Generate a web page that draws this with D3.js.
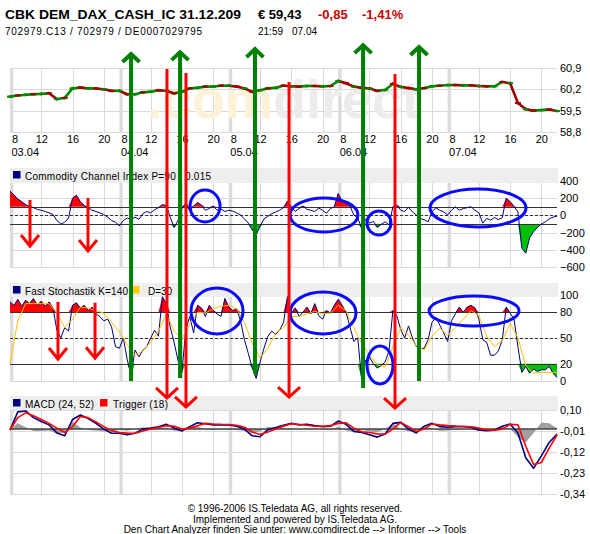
<!DOCTYPE html>
<html><head><meta charset="utf-8">
<script src="https://cdn.jsdelivr.net/npm/d3@7"></script>
<style>body{margin:0;background:#fff;} svg{display:block;font-family:"Liberation Sans",Arial,sans-serif;}</style>
</head><body><svg id="c" width="590" height="534"></svg>
<script>
// ---------- DATA ----------
const days = ["03.04","04.04","05.04","06.04","07.04"];
const hourLabels = [8,12,16,20];
const priceTicks = [60.9,60.2,59.5,58.8];
const priceTickLabels = ["60,9","60,2","59,5","58,8"];
const cciTicks = [400,200,0,-200,-400,-600];
const cciLevels = [100,-100];
const stochTicks = [100,80,50,20,0];
const stochLevels = [80,20];
const macdTicks = [0.10,-0.01,-0.12,-0.23,-0.34];
const macdTickLabels = ["0,10","-0,01","-0,12","-0,23","-0,34"];

// hourly price (t = trading hours from 03.04 08:00, 14 h per day)
const price = [
 59.96,60.00,60.02,60.04,60.05,60.07,59.88,59.92,60.23,60.26,60.23,60.23,60.20,60.15,
 60.15,60.04,60.04,60.10,60.12,60.17,60.15,60.07,60.12,60.23,60.25,60.29,60.29,60.32,
 60.32,60.29,60.23,60.12,60.17,60.23,60.25,60.32,60.30,60.29,60.31,60.31,60.30,60.31,
 60.47,60.40,60.29,60.25,60.23,60.15,60.18,60.38,60.28,60.24,60.20,60.24,60.30,60.32,
 60.34,60.34,60.33,60.33,60.31,60.30,60.30,60.44,60.40,59.75,59.55,59.50,59.52,59.54,59.49];

// half-hourly CCI
const cci = [
 284,240,190,160,125,105,90,70,60,45,30,10,-60,-100,-80,-30,200,235,160,115,90,60,45,30,10,-20,-60,-80,
 -120,-60,-30,-50,-20,-45,20,45,30,65,90,125,115,-20,-140,-60,80,140,50,110,150,120,60,80,110,60,75,45,
 60,50,30,5,-40,-90,-170,-225,-130,-40,-10,20,40,60,90,165,100,45,80,110,70,60,45,85,60,25,80,100,
 255,165,140,110,5,-30,-150,-40,-90,-70,-140,-105,-75,-110,100,120,60,45,95,40,5,-35,-50,-75,40,90,60,40,
 5,60,100,60,80,90,100,60,30,-90,-35,-55,-25,-50,-25,200,160,105,40,-380,-440,-260,-190,-140,-100,-75,-40,-20,
 -10];

// half-hourly Fast Stochastik K
const stochK = [
 92,88,95,87,94,90,96,88,93,87,92,85,59,50,62,58,88,91,85,88,82,86,78,75,70,72,63,40,
 38,50,25,7,36,28,36,40,50,59,52,98,90,63,45,24,10,60,75,56,88,85,75,88,82,78,75,96,
 86,82,84,70,48,32,15,3,22,38,52,58,54,59,68,98,78,85,75,80,86,78,90,76,72,82,79,88,
 95,88,80,63,46,50,2,24,28,20,15,18,22,35,82,76,60,50,64,50,40,38,38,48,68,74,65,56,
 46,70,78,86,80,86,88,85,72,48,45,30,30,35,48,86,79,72,40,10,17,9,14,11,13,13,17,9,
 4];

// hourly D line
const stochD = [
 21,70,90,90,90,90,79,62,72,86,85,82,79,68,
 57,42,30,35,45,58,78,58,49,66,80,79,84,87,
 88,84,68,44,27,38,56,62,75,75,78,81,78,79,
 88,82,62,44,30,19,16,40,62,54,41,36,52,62,
 53,62,72,82,76,52,40,47,67,50,18,9,10,10,10];

// hourly MACD, trigger, histogram
const macd = [
 -0.005,0.09,0.095,0.06,0.04,0.022,-0.02,-0.035,0.05,0.074,0.055,0.03,0.0,-0.022,
 -0.022,-0.03,-0.022,0.0,0.005,0.012,0.025,0.006,-0.01,0.013,0.033,0.028,0.022,0.022,
 0.022,0.015,0.0,-0.035,-0.04,-0.003,0.008,0.02,0.03,0.022,0.025,0.018,0.013,0.015,
 0.042,0.025,-0.012,-0.018,-0.03,-0.042,-0.026,0.03,0.035,0.0,-0.02,0.015,0.03,0.013,
 0.01,0.013,0.012,0.01,-0.005,-0.008,-0.006,0.015,0.027,-0.02,-0.15,-0.205,-0.14,-0.07,-0.026];
const trigger = [
 -0.005,0.06,0.085,0.07,0.05,0.03,0.005,-0.018,0.013,0.066,0.06,0.038,0.013,-0.008,
 -0.018,-0.021,-0.022,-0.01,0.0,0.008,0.018,0.015,0.0,0.005,0.018,0.03,0.027,0.025,
 0.024,0.02,0.01,-0.015,-0.028,-0.015,0.0,0.015,0.028,0.024,0.02,0.015,0.015,0.018,
 0.03,0.033,0.005,-0.014,-0.018,-0.025,-0.026,0.0,0.035,0.013,-0.012,0.0,0.027,0.022,
 0.018,0.016,0.015,0.012,0.005,-0.003,-0.006,0.0,0.025,0.022,-0.09,-0.185,-0.175,-0.1,-0.031];
const histogram = [
 0,0.03,0.01,-0.01,-0.01,-0.008,-0.025,-0.017,0.037,0.008,-0.005,-0.008,-0.013,-0.014,
 -0.004,-0.009,0,0.01,0.005,0.004,0.007,-0.009,-0.01,0.008,0.015,-0.002,-0.005,-0.003,
 -0.002,-0.005,-0.01,-0.02,-0.012,0.012,0.008,0.005,0.002,-0.002,0.005,0.003,-0.002,-0.003,
 0.012,-0.008,-0.017,-0.004,-0.012,-0.017,0,0.03,0,-0.013,-0.008,0.015,0.003,-0.009,
 -0.008,-0.003,-0.003,-0.002,-0.01,-0.005,0,0.015,0.002,-0.042,-0.07,-0.02,0.035,0.03,0.005];

// hand-drawn annotations (time in trading hours, ends in panel values)
const greenArrows = [ {t:15.49,priceTop:61.36,stochEnd:0},{t:21.76,priceTop:61.42,stochEnd:3.5},
 {t:31.35,priceTop:61.52,stochEnd:9},{t:45.18,priceTop:61.65,stochEnd:-8},{t:52.34,priceTop:61.59,stochEnd:0} ];
const redArrows = [ {t:20.09,priceTop:60.87,macdTip:0.163},{t:22.52,priceTop:60.74,macdTip:0.116},
 {t:35.71,priceTop:60.44,macdTip:0.168},{t:49.27,priceTop:60.70,macdTip:0.110} ];
const cciArrows = [ {t:2.56,from:179,to:-356},{t:9.98,from:202,to:-414} ];
const stochArrows = [ {t:6.14,from:92,to:25.5},{t:10.88,from:91,to:26.5} ];
const cciRings = [ {t:24.96,v:109,rt:1.92,rv:186},{t:40.18,v:5,rt:4.35,rv:198},
 {t:47.22,v:-88,rt:1.54,rv:140},{t:59.89,v:86,rt:6.14,rv:221} ];
const stochRings = [ {t:26.49,v:81.4,rt:3.33,rv:26.7},{t:40.06,v:79.1,rt:4.22,rv:24.4},
 {t:47.35,v:18.6,rt:1.66,rv:22.1},{t:59.38,v:81.4,rt:5.76,rv:17.4} ];

// ---------- DRAW ----------
const svg = d3.select("#c");
const X0 = 10, X1 = 557;
const x = d3.scaleLinear().domain([0, 70]).range([X0, X1]);
const tHour = price.map((d,i)=>i);
const tHalf = cci.map((d,i)=>i*0.5);

const yP = d3.scaleLinear().domain([58.8,60.9]).range([132,68]);
const yC = d3.scaleLinear().domain([-600,400]).range([267,181]);
const yS = d3.scaleLinear().domain([0,100]).range([381,295]);
const yM = d3.scaleLinear().domain([-0.34,0.10]).range([494,410]);

const gridHours = [];
days.forEach((d,i)=>hourLabels.filter(h=>h!==8).forEach(h=>gridHours.push(i*14+h-8)));
const dayStarts = days.map((d,i)=>i*14);

function grid(top, bottom, ticks, y){
  const g = svg.append("g");
  g.selectAll(null).data(ticks).join("line")
    .attr("x1",X0).attr("x2",X1).attr("y1",d=>Math.round(y(d))+0.5).attr("y2",d=>Math.round(y(d))+0.5)
    .attr("stroke","#d9d9d9");
  g.selectAll(null).data(gridHours).join("line")
    .attr("x1",d=>Math.round(x(d))+0.5).attr("x2",d=>Math.round(x(d))+0.5)
    .attr("y1",top).attr("y2",bottom).attr("stroke","#d9d9d9");
  g.selectAll(null).data(dayStarts).join("rect")
    .attr("x",d=>x(d)).attr("width",3.4).attr("y",top).attr("height",bottom-top).attr("fill","#dcdcdc");
}
function rightAxis(y, ticks, labels){
  const a = d3.axisRight(y).tickValues(ticks).tickSize(0).tickPadding(3)
    .tickFormat((d,i)=>labels ? labels[i] : d3.format("d")(d));
  const g = svg.append("g").attr("transform",`translate(${X1},0)`).call(a);
  g.select(".domain").remove();
  g.selectAll("text").attr("font-size",11).attr("fill","#000").attr("font-family","Liberation Sans, Arial, sans-serif");
}
function band(y0, y1){
  svg.append("rect").attr("x",X0).attr("y",y0).attr("width",X1-X0+1).attr("height",y1-y0).attr("fill","#eeeeee");
}
function levels(vals, y, dashed){
  svg.append("g").selectAll(null).data(vals).join("line")
    .attr("x1",X0).attr("x2",X1).attr("y1",d=>Math.round(y(d))+0.5).attr("y2",d=>Math.round(y(d))+0.5)
    .attr("stroke","#333").attr("stroke-width",1).attr("stroke-dasharray",dashed?"3,2":null);
}
function fillBeyond(data, ts, y, lvl, above, color){
  const a = d3.area().x((d,i)=>x(ts[i])).y0(y(lvl))
    .y1(d=> y(above ? Math.max(d,lvl) : Math.min(d,lvl)));
  svg.append("path").datum(data).attr("d",a).attr("fill",color);
}
function seriesLine(data, ts, y, color, w){
  svg.append("path").datum(data)
    .attr("d", d3.line().x((d,i)=>x(ts[i])).y(d=>y(d)))
    .attr("fill","none").attr("stroke",color).attr("stroke-width",w).attr("stroke-linejoin","round");
}

// ---- Title ----
const title = svg.append("g").attr("font-weight","bold").attr("font-size",13);
title.append("text").attr("x",5).attr("y",19).attr("textLength",236).attr("lengthAdjust","spacingAndGlyphs")
  .text("CBK DEM_DAX_CASH_IC 31.12.209");
title.append("text").attr("x",258).attr("y",19).text("€ 59,43");
title.append("text").attr("x",318).attr("y",19).attr("fill","#cc0000").text("-0,85");
title.append("text").attr("x",362).attr("y",19).attr("fill","#cc0000").text("-1,41%");
const sub = svg.append("g").attr("font-size",10);
sub.append("text").attr("x",5).attr("y",35).attr("textLength",197).attr("lengthAdjust","spacing")
  .text("702979.C13  /  702979  /  DE0007029795");
sub.append("text").attr("x",258).attr("y",35).text("21:59");
sub.append("text").attr("x",292).attr("y",35).text("07.04");

// ---- Price panel ----
grid(68, 133, priceTicks, yP);
const wm = svg.append("text").attr("x",147).attr("y",118).attr("font-size",54).attr("font-weight","bold")
  .attr("textLength",273).attr("lengthAdjust","spacingAndGlyphs");
wm.append("tspan").attr("fill","#fdf1d8").text(".com");
wm.append("tspan").attr("fill","#ececec").text("direct");
rightAxis(yP, priceTicks, priceTickLabels);
// price segments coloured by direction
const segs = price.slice(1).map((v,i)=>({a:price[i], b:v, i}));
svg.append("g").selectAll(null).data(segs).join("line")
  .attr("x1",d=>x(tHour[d.i])).attr("x2",d=>x(tHour[d.i+1]))
  .attr("y1",d=>yP(d.a)).attr("y2",d=>yP(d.b))
  .attr("stroke",d=>d.b>=d.a ? "#008800" : "#a00000").attr("stroke-width",2.6).attr("stroke-linecap","square");
svg.append("g").selectAll(null).data(price).join("line")
  .attr("x1",(d,i)=>x(tHour[i])-3).attr("x2",(d,i)=>x(tHour[i])+3)
  .attr("y1",d=>yP(d)).attr("y2",d=>yP(d))
  .attr("stroke",(d,i)=> i%2 ? "#a00000" : "#008800").attr("stroke-width",2);

// x-axis labels
const xt = [];
days.forEach((d,i)=>hourLabels.forEach(h=>xt.push({t:i*14+h-8,h})));
const xa = d3.axisBottom(x).tickValues(xt.map(d=>d.t)).tickSize(0).tickPadding(0)
  .tickFormat((d,i)=>xt[i].h);
const xg = svg.append("g").attr("transform","translate(0,135)").call(xa);
xg.select(".domain").remove();
xg.selectAll("text").attr("font-size",11).attr("fill","#000").attr("dy","0.71em")
  .attr("font-family","Liberation Sans, Arial, sans-serif")
  .attr("text-anchor",(d,i)=>xt[i].h===8?"start":"middle")
  .attr("x",(d,i)=>xt[i].h===8?1.5:0);
svg.append("g").selectAll(null).data(days).join("text")
  .attr("x",(d,i)=>x(i*14)+1.5).attr("y",156).attr("font-size",11).text(d=>d);

// ---- CCI panel ----
grid(168, 268, cciTicks, yC);
band(168, 183);
fillBeyond(cci, tHalf, yC, 100, true, "#ff0000");
fillBeyond(cci, tHalf, yC, -100, false, "#00c000");
levels(cciLevels, yC, false);
levels([0], yC, true);
seriesLine(cci, tHalf, yC, "#000080", 1);
rightAxis(yC, cciTicks, null);

// ---- Stochastik panel ----
grid(283, 382, stochTicks, yS);
band(283, 297);
fillBeyond(stochK, tHalf, yS, 80, true, "#ff0000");
fillBeyond(stochK, tHalf, yS, 20, false, "#00c000");
levels(stochLevels, yS, false);
levels([50], yS, true);
seriesLine(stochK, tHalf, yS, "#000080", 1);
seriesLine(stochD, tHour, yS, "#ffc000", 1);
rightAxis(yS, stochTicks, null);

// ---- MACD panel ----
grid(396, 495, macdTicks, yM);
band(396, 410);
svg.append("path").datum(histogram)
  .attr("d", d3.area().x((d,i)=>x(tHour[i])).y0(yM(0)).y1(d=>yM(d)))
  .attr("fill","#a0a0a0");
svg.append("line").attr("x1",X0).attr("x2",X1).attr("y1",yM(0)).attr("y2",yM(0)).attr("stroke","#444").attr("stroke-width",1.5);
seriesLine(macd, tHour, yM, "#000080", 1.6);
seriesLine(trigger, tHour, yM, "#ff0000", 1.6);
rightAxis(yM, macdTicks, macdTickLabels);

// ---- Legends ----
function legend(y0, items){
  const g = svg.append("g").attr("font-size",10);
  items.forEach(it=>{
    g.append("rect").attr("x",it.sx).attr("y",y0+3).attr("width",7.5).attr("height",7.5).attr("fill",it.c);
    g.append("text").attr("x",it.tx).attr("y",y0+11.5).attr("textLength",it.len).attr("lengthAdjust","spacing").text(it.label);
  });
}
legend(168, [{sx:13,tx:25,len:186,c:"#000080",label:"Commodity Channel Index P=90 / 0.015"}]);
legend(283, [{sx:13,tx:25,len:103,c:"#000080",label:"Fast Stochastik K=140"},{sx:132,tx:148,len:24,c:"#ffcc00",label:"D=30"}]);
legend(396, [{sx:13,tx:25,len:69,c:"#000080",label:"MACD (24, 52)"},{sx:100,tx:113,len:55,c:"#ff0000",label:"Trigger (18)"}]);

// ---- Footer ----
const ft = svg.append("g").attr("font-size",10).attr("text-anchor","middle");
ft.append("text").attr("x",295).attr("y",512).text("\u00a9 1996-2006 IS.Teledata AG, all rights reserved.");
ft.append("text").attr("x",295).attr("y",523).text("Implemented and powered by IS.Teledata AG.");
ft.append("text").attr("x",295).attr("y",533).text("Den Chart Analyzer finden Sie unter: www.comdirect.de --> Informer --> Tools");

// ---- Annotations ----
const ann = svg.append("g").attr("fill","none").attr("stroke-linecap","butt");
function arrowDown(gx, yTop, yTip, color, w, hw, hh){
  ann.append("line").attr("x1",gx).attr("x2",gx).attr("y1",yTop).attr("y2",yTip).attr("stroke",color).attr("stroke-width",w);
  ann.append("path").attr("d",`M${gx-hw},${yTip-hh}L${gx},${yTip}L${gx+hw},${yTip-hh}`).attr("stroke",color).attr("stroke-width",w);
}
function arrowUp(gx, yTip, yBot, color, w, hw, hh){
  ann.append("line").attr("x1",gx).attr("x2",gx).attr("y1",yTip).attr("y2",yBot).attr("stroke",color).attr("stroke-width",w);
  ann.append("path").attr("d",`M${gx-hw},${yTip+hh}L${gx},${yTip}L${gx+hw},${yTip+hh}`).attr("stroke",color).attr("stroke-width",w);
}
cciRings.forEach(r=>ann.append("ellipse").attr("cx",x(r.t)).attr("cy",yC(r.v))
  .attr("rx",x(r.rt)-x(0)).attr("ry",yC(0)-yC(r.rv)).attr("stroke","#0a0aff").attr("stroke-width",3));
stochRings.forEach(r=>ann.append("ellipse").attr("cx",x(r.t)).attr("cy",yS(r.v))
  .attr("rx",x(r.rt)-x(0)).attr("ry",yS(0)-yS(r.rv)).attr("stroke","#0a0aff").attr("stroke-width",3));
greenArrows.forEach(a=>arrowUp(x(a.t), yP(a.priceTop), yS(a.stochEnd), "#008000", 4, 8.5, 8));
redArrows.forEach(a=>arrowDown(x(a.t), yP(a.priceTop), yM(a.macdTip), "#ff0000", 3, 11, 10));
cciArrows.forEach(a=>arrowDown(x(a.t), yC(a.from), yC(a.to), "#ff0000", 3, 9, 11));
stochArrows.forEach(a=>arrowDown(x(a.t), yS(a.from), yS(a.to), "#ff0000", 3, 9, 11));
</script></body></html>
